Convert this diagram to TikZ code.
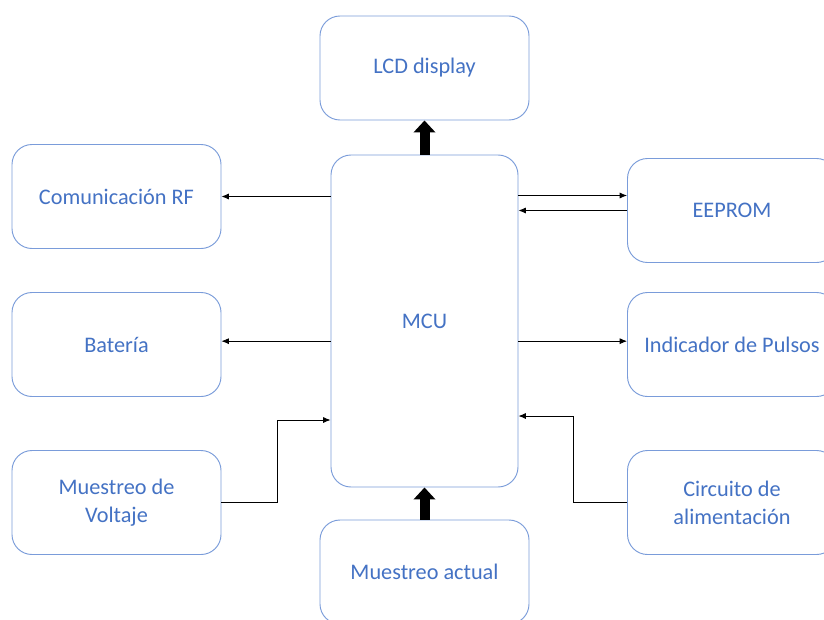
\documentclass[tikz,border=0pt]{standalone}
\usepackage{fontspec}
\setmainfont{Carlito}
\usepackage{xcolor}
\usetikzlibrary{positioning,arrows.meta}

\definecolor{boxline}{HTML}{7A9CDA}
\definecolor{boxtext}{HTML}{4472C4}

\begin{document}
\begin{tikzpicture}[x=0.03cm,y=-0.03cm,
    blk/.style={draw=boxline,line width=0.8pt,rounded corners=0.6cm,
      minimum width=6.27cm,minimum height=3.12cm,text=boxtext,
      align=center,font=\fontsize{19}{24}\selectfont},
    thin/.style={draw=black,line width=0.7pt,-{Latex[length=2.2mm,width=1.8mm]}},
    fat/.style={draw=black,line width=3mm,-{Triangle[length=3.6mm,width=6.4mm]}}]
  \clip (0,0) rectangle (824,619);
  \fill[white] (0,0) rectangle (824,619);
  % central block
  \node[blk,minimum width=5.61cm,minimum height=9.96cm] (mcu) at (424.5,321) {MCU};
  % top and bottom
  \node[blk] (lcd) at (424.5,68) {LCD display};
  \node[blk] (actual) at (424.5,572) {Muestreo actual};
  % left column
  \node[blk] (rf) at (116.5,196.5) {Comunicación RF};
  \node[blk] (bat) at (116.5,344.5) {Batería};
  \node[blk] (volt) at (116.5,502.5) {Muestreo de\\Voltaje};
  % right column
  \node[blk] (eeprom) at (732,210.5) {EEPROM};
  \node[blk] (pulsos) at (732,344.5) {Indicador de Pulsos};
  \node[blk] (alim) at (732,502.5) {Circuito de\\alimentación};
  % connectors
  \draw[fat] (mcu.north) -- (lcd.south);
  \draw[fat] (actual.north) -- (mcu.south);
  \draw[thin] (mcu.west |- rf.east) -- (rf.east);
  \draw[thin] ([yshift=0.1cm]mcu.west |- bat.east) -- ([yshift=0.1cm]bat.east);
  \draw[thin] ([yshift=0.45cm]mcu.east |- eeprom.west) -- ([yshift=0.45cm]eeprom.west);
  \draw[thin] (eeprom.west) -- (mcu.east |- eeprom.west);
  \draw[thin] ([yshift=0.1cm]mcu.east |- pulsos.west) -- ([yshift=0.1cm]pulsos.west);
  \draw[thin] (volt.east) -- ++(56,0) |- ([yshift=-2.97cm]mcu.west);
  \draw[thin] (alim.west) -- ++(-54,0) |- ([yshift=-2.85cm]mcu.east);
\end{tikzpicture}
\end{document}
